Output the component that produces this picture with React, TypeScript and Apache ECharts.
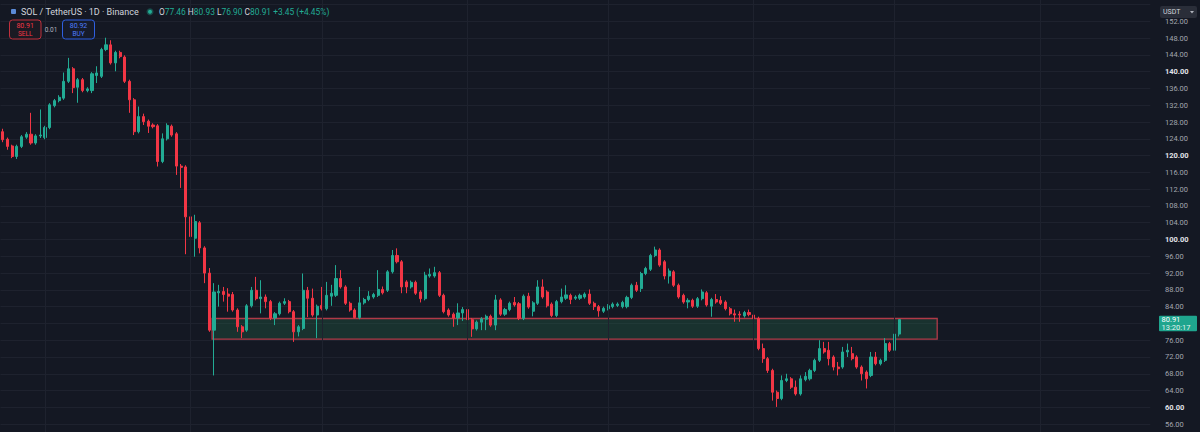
import React, { useEffect, useRef } from "react";
import * as echarts from "echarts";

// ---------- data ----------
const START = Date.UTC(2025, 11, 23);
const DAY_COUNT = 245;
const dates: string[] = Array.from({ length: DAY_COUNT }, (_, i) =>
  new Date(START + i * 86400000).toISOString().slice(0, 10)
);

const opens = [
  125.7, 123.9, 122.3, 119.8, 122.2, 124.4, 125.1, 123.0, 124.7, 124.3,
  126.7, 131.9, 133.1, 133.7, 137.7, 140.7, 136.3, 138.1, 135.5, 135.5,
  139.1, 138.9, 145.3, 146.4, 142.1, 144.6, 143.5, 137.7, 133.3, 125.7,
  129.3, 128.2, 127.3, 127.1, 118.6, 124.0, 127.0, 125.2, 117.5, 117.3,
  105.4, 100.3, 104.0, 98.0, 92.0, 78.4, 87.3, 87.6, 87.0, 86.9,
  83.2, 79.2, 78.4, 84.2, 87.9, 85.9, 86.3, 85.2, 81.3, 82.3,
  84.8, 85.2, 82.8, 78.0, 78.8, 87.9, 86.0, 82.0, 84.3, 83.5,
  86.5, 86.7, 90.7, 88.7, 84.8, 83.2, 81.4, 84.9, 85.7, 86.3,
  86.7, 88.1, 87.9, 92.3, 96.2, 94.7, 89.9, 88.7, 89.8, 87.5,
  85.9, 91.3, 91.3, 92.1, 86.7, 83.2, 82.2, 81.3, 82.5, 83.3,
  80.9, 78.7, 80.3, 81.0, 81.7, 79.6, 85.6, 82.2, 83.3, 85.0,
  84.7, 81.2, 86.5, 82.9, 84.8, 88.7, 87.5, 84.6, 81.9, 85.2,
  86.0, 86.7, 86.0, 86.0, 86.3, 87.0, 84.8, 84.0, 82.9, 83.5,
  84.0, 84.3, 84.0, 84.0, 86.2, 89.1, 88.3, 91.9, 92.9, 96.2,
  97.5, 94.7, 91.3, 92.3, 89.1, 86.7, 85.1, 85.5, 84.1, 85.9,
  87.3, 84.1, 85.7, 85.5, 85.1, 83.5, 82.3, 82.2, 81.8, 82.6,
  82.0, 81.2, 74.0, 71.6, 68.8, 63.6, 62.1, 66.4, 66.8, 64.8,
  63.2, 66.6, 66.8, 68.8, 71.2, 74.0, 73.6, 72.0, 69.6, 69.6,
  73.2, 72.8, 72.0, 69.6, 68.4, 67.6, 72.0, 70.4, 71.2, 75.2,
  73.6, 77.46,
];
const closes = [
  123.8, 122.2, 119.8, 122.2, 124.5, 125.1, 123.0, 124.7, 124.9, 126.7,
  132.1, 133.1, 133.9, 137.7, 140.7, 136.2, 138.1, 135.5, 135.9, 139.5,
  139.7, 145.3, 146.4, 142.1, 144.6, 143.6, 137.7, 133.3, 125.7, 129.3,
  128.1, 127.0, 126.9, 118.6, 124.0, 127.2, 124.9, 117.5, 117.2, 105.4,
  100.7, 104.3, 98.0, 92.0, 78.4, 87.5, 87.6, 86.9, 86.5, 83.2,
  79.2, 78.0, 84.2, 87.9, 85.9, 86.3, 85.2, 81.3, 82.3, 84.8,
  85.2, 82.8, 78.0, 79.2, 87.9, 86.0, 82.0, 84.1, 83.5, 86.7,
  87.2, 90.7, 88.7, 84.8, 83.2, 81.4, 84.9, 85.7, 86.5, 86.9,
  88.1, 87.3, 92.3, 96.2, 94.7, 88.7, 88.7, 89.8, 87.2, 85.9,
  91.5, 91.7, 92.1, 86.7, 82.8, 82.0, 81.3, 82.5, 83.3, 80.9,
  78.7, 80.3, 81.1, 81.7, 79.6, 85.6, 82.2, 83.3, 84.8, 84.4,
  81.2, 86.5, 83.9, 84.9, 88.7, 86.3, 84.2, 81.9, 85.2, 86.3,
  86.8, 85.7, 86.3, 86.7, 87.0, 84.8, 84.0, 83.0, 83.6, 84.2,
  84.6, 84.6, 85.0, 86.2, 89.1, 87.9, 91.9, 93.1, 96.2, 97.5,
  93.9, 91.3, 92.5, 89.1, 86.3, 85.1, 85.5, 84.1, 85.9, 87.5,
  84.4, 85.7, 85.1, 84.8, 83.5, 82.3, 82.0, 82.0, 82.6, 82.1,
  81.2, 74.0, 71.6, 68.8, 63.6, 62.1, 66.4, 66.8, 64.8, 63.2,
  66.8, 67.4, 68.8, 71.2, 74.0, 73.2, 71.6, 69.6, 69.2, 73.2,
  73.6, 71.6, 69.6, 68.0, 66.8, 72.0, 70.4, 71.2, 75.2, 73.6,
  77.46, 80.91,
];
const lows = [
  123.2, 121.4, 119.4, 119.2, 121.8, 124.0, 122.6, 122.6, 124.2, 123.9,
  126.3, 131.5, 132.7, 133.3, 137.3, 134.9, 132.6, 135.1, 135.1, 134.9,
  137.3, 138.5, 144.9, 141.7, 140.1, 143.2, 137.3, 130.2, 124.9, 125.3,
  127.3, 125.4, 126.5, 117.4, 118.2, 123.6, 124.5, 115.4, 112.3, 96.5,
  98.3, 95.9, 96.7, 89.6, 78.0, 67.6, 84.0, 85.2, 82.8, 82.8,
  78.0, 76.5, 78.0, 83.8, 85.5, 82.4, 83.6, 80.8, 79.6, 81.9,
  84.4, 82.4, 75.6, 76.9, 78.4, 81.5, 81.6, 76.5, 83.1, 83.1,
  84.2, 86.3, 88.3, 84.4, 82.8, 81.2, 81.0, 84.5, 85.3, 85.9,
  86.3, 86.9, 87.5, 91.9, 94.3, 87.2, 87.2, 88.3, 86.8, 85.0,
  85.5, 90.9, 90.9, 86.3, 82.4, 81.6, 79.2, 79.6, 80.6, 80.5,
  76.8, 78.3, 78.4, 78.4, 79.2, 78.4, 81.8, 81.8, 82.9, 84.0,
  80.8, 80.8, 83.5, 81.7, 84.4, 85.9, 83.8, 81.5, 81.5, 84.8,
  85.6, 84.6, 85.6, 85.6, 85.9, 84.4, 83.2, 81.6, 82.5, 83.1,
  83.6, 83.9, 83.6, 83.6, 85.8, 87.5, 87.5, 91.5, 92.5, 95.8,
  93.5, 90.5, 89.5, 88.7, 85.9, 84.7, 83.6, 83.7, 83.7, 85.5,
  84.0, 81.6, 84.7, 84.4, 83.1, 81.9, 80.4, 80.4, 81.4, 81.7,
  79.2, 73.6, 70.6, 68.2, 61.6, 60.1, 61.7, 66.0, 64.4, 62.8,
  62.8, 66.2, 66.4, 68.4, 70.8, 72.8, 70.0, 68.8, 67.6, 69.2,
  72.0, 71.2, 69.2, 66.4, 64.5, 67.2, 70.0, 70.0, 70.8, 73.2,
  73.2, 76.9,
];
const highs = [
  126.4, 124.3, 122.6, 122.6, 124.9, 125.6, 130.2, 125.1, 131.0, 127.1,
  132.5, 133.5, 134.4, 139.8, 143.3, 141.1, 138.5, 138.5, 136.3, 139.9,
  141.3, 145.7, 148.1, 147.5, 145.0, 145.0, 143.9, 138.1, 133.7, 131.7,
  130.0, 128.6, 127.7, 127.5, 125.3, 127.7, 127.4, 125.6, 118.0, 117.7,
  107.6, 105.9, 104.4, 98.4, 93.2, 89.6, 89.2, 88.7, 88.4, 87.5,
  83.6, 79.6, 84.6, 88.7, 91.1, 90.3, 86.9, 85.6, 82.7, 85.2,
  86.0, 85.6, 83.2, 79.6, 91.9, 88.7, 88.3, 84.5, 88.7, 89.9,
  89.2, 93.9, 92.7, 89.1, 85.2, 83.6, 88.7, 86.1, 87.7, 87.3,
  92.7, 88.8, 92.7, 97.5, 97.9, 95.1, 90.3, 90.2, 90.2, 87.9,
  92.3, 93.1, 93.5, 92.5, 87.1, 83.6, 82.6, 84.8, 83.9, 86.3,
  81.3, 80.7, 81.5, 82.1, 82.1, 86.8, 86.0, 83.7, 85.2, 86.3,
  85.1, 86.9, 87.3, 85.3, 90.3, 90.5, 87.9, 85.0, 85.6, 88.3,
  89.1, 87.1, 86.7, 87.1, 87.4, 88.1, 85.2, 84.4, 84.0, 84.6,
  85.0, 85.0, 85.4, 86.6, 89.5, 89.9, 92.3, 93.5, 96.6, 98.3,
  97.9, 95.1, 93.1, 92.7, 89.5, 87.1, 86.0, 85.9, 86.3, 88.1,
  87.7, 86.1, 87.0, 86.5, 85.5, 83.9, 83.3, 82.9, 83.0, 83.3,
  82.4, 81.6, 75.2, 72.0, 69.2, 64.0, 67.6, 68.0, 67.2, 66.4,
  67.6, 68.4, 69.2, 71.6, 76.0, 75.6, 75.6, 72.4, 70.8, 74.4,
  75.2, 74.4, 72.4, 70.0, 68.8, 73.2, 73.2, 71.6, 76.5, 75.6,
  78.5, 80.93,
];

// support zone (index units on the category scale, price units)
const zoneStart = 44.6;
const zoneEnd = 199.1;
const zoneLow = 76.24;
const zoneHigh = 81.18;

const askPrice = 80.92;
const spread = "0.01";
const countdown = "13:20:17";
const symbolTitle = "SOL / TetherUS · 1D · Binance";
const currency = "USDT";

// ---------- styling ----------
const FONT = "Roboto, 'Liberation Sans', sans-serif";
const BG = "#141823";
const GRID = "#1e222e";
const UP = "#22ab94";
const DOWN = "#f23645";
const OY = 20;

const last = opens.length - 1;
const lastClose = closes[last];
const prevClose = closes[last - 1];
const change = lastClose - prevClose;
const changePct = (change / prevClose) * 100;

export default function App() {
  const ref = useRef<HTMLDivElement>(null);
  useEffect(() => {
    document.documentElement.style.overflow = "hidden";
    document.body.style.margin = "0";
    document.body.style.overflow = "hidden";
    const chart = echarts.init(ref.current!, null, { renderer: "svg" });

    const candles = opens.map((o, i) => [o, closes[i], lows[i], highs[i]]);
    const monthStarts = dates
      .map((d, i) => (d.endsWith("-01") ? i : -1))
      .filter((i) => i >= 0);

    const base: any[] = [
      {
        type: "rect",
        z: 100,
        shape: { x: 11, y: 9 + OY, width: 5, height: 5, r: 1 },
        style: { fill: "#5b8bd8" },
      },
      {
        type: "text",
        z: 100,
        x: 21,
        y: 11.7 + OY,
        style: {
          text: symbolTitle,
          fill: "#d1d4dc",
          fontSize: 9,
          fontFamily: FONT,
          verticalAlign: "middle",
        },
      },
      {
        type: "circle",
        z: 100,
        shape: { cx: 150, cy: 11.7 + OY, r: 3.5 },
        style: { fill: "rgba(34,171,148,0.35)" },
      },
      {
        type: "circle",
        z: 100,
        shape: { cx: 150, cy: 11.7 + OY, r: 2 },
        style: { fill: UP },
      },
      {
        type: "text",
        z: 100,
        x: 159,
        y: 11.7 + OY,
        style: {
          text:
            `{l|O}{v|${opens[last].toFixed(2)}} {l|H}{v|${highs[last].toFixed(2)}} ` +
            `{l|L}{v|${lows[last].toFixed(2)}} {l|C}{v|${lastClose.toFixed(2)}} ` +
            `{v|+${change.toFixed(2)} (+${changePct.toFixed(2)}%)}`,
          verticalAlign: "middle",
          fontSize: 8.4,
          fontFamily: FONT,
          rich: {
            l: { fill: "#d1d4dc", fontSize: 8.4, fontFamily: FONT },
            v: { fill: UP, fontSize: 8.4, fontFamily: FONT },
          },
        },
      },
      // SELL box
      {
        type: "rect",
        z: 100,
        shape: { x: 9.5, y: 20 + OY, width: 31.5, height: 19, r: 3 },
        style: { fill: "#1b1a23", stroke: "#c0303d", lineWidth: 1 },
      },
      {
        type: "text",
        z: 101,
        x: 25.2,
        y: 25.5 + OY,
        style: {
          text: lastClose.toFixed(2),
          fill: DOWN,
          fontSize: 7,
          fontFamily: FONT,
          align: "center",
          verticalAlign: "middle",
        },
      },
      {
        type: "text",
        z: 101,
        x: 25.2,
        y: 33.5 + OY,
        style: {
          text: "SELL",
          fill: DOWN,
          fontSize: 6.5,
          fontFamily: FONT,
          align: "center",
          verticalAlign: "middle",
        },
      },
      {
        type: "text",
        z: 100,
        x: 51,
        y: 29.5 + OY,
        style: {
          text: spread,
          fill: "#b2b5be",
          fontSize: 6.5,
          fontFamily: FONT,
          align: "center",
          verticalAlign: "middle",
        },
      },
      // BUY box
      {
        type: "rect",
        z: 100,
        shape: { x: 62.5, y: 20 + OY, width: 32, height: 19, r: 3 },
        style: { fill: "#161b2a", stroke: "#2f5fe0", lineWidth: 1 },
      },
      {
        type: "text",
        z: 101,
        x: 78.5,
        y: 25.5 + OY,
        style: {
          text: askPrice.toFixed(2),
          fill: "#4d7dff",
          fontSize: 7,
          fontFamily: FONT,
          align: "center",
          verticalAlign: "middle",
        },
      },
      {
        type: "text",
        z: 101,
        x: 78.5,
        y: 33.5 + OY,
        style: {
          text: "BUY",
          fill: "#4d7dff",
          fontSize: 6.5,
          fontFamily: FONT,
          align: "center",
          verticalAlign: "middle",
        },
      },
      // currency box
      {
        type: "rect",
        z: 100,
        shape: { x: 1160, y: 6 + OY, width: 37, height: 12, r: 2 },
        style: { fill: "#2a2e39" },
      },
      {
        type: "text",
        z: 101,
        x: 1163,
        y: 12 + OY,
        style: {
          text: currency,
          fill: "#d1d4dc",
          fontSize: 7,
          fontFamily: FONT,
          verticalAlign: "middle",
        },
      },
      {
        type: "polygon",
        z: 101,
        shape: { points: [[1190, 11 + OY], [1194, 11 + OY], [1192, 13.5 + OY]] },
        style: { fill: "#b2b5be" },
      },
    ];

    const option: any = {
      animation: false,
      backgroundColor: BG,
      grid: { left: 0.45, right: 49.75, top: 7.8, bottom: 19.1 },
      xAxis: [
        {
          type: "category",
          data: dates,
          boundaryGap: true,
          show: false,
        },
        {
          type: "value",
          min: -0.5,
          max: DAY_COUNT - 0.5,
          show: false,
          splitLine: { show: false },
        },
      ],
      yAxis: {
        type: "value",
        position: "right",
        min: 52,
        max: 160,
        interval: 4,
        axisLine: { show: false },
        axisTick: { show: false },
        splitLine: { lineStyle: { color: GRID, width: 1 } },
        axisLabel: {
          margin: 14.7,
          fontSize: 7.5,
          fontFamily: FONT,
          color: "#a3a6af",
          formatter: (v: number) => {
            // hidden: beyond the visible area, under the currency box, or under the price tag
            if (v > 153 || v < 54 || Math.abs(v - lastClose) < 2.5) return "";
            const s = v.toFixed(2);
            return v % 20 === 0 ? `{b|${s}}` : `{n|${s}}`;
          },
          rich: {
            b: { color: "#e1e3e8", fontWeight: "bold", fontSize: 7.5, fontFamily: FONT },
            n: { color: "#a3a6af", fontSize: 7.5, fontFamily: FONT },
          },
        },
      },
      series: [
        {
          type: "line",
          xAxisIndex: 1,
          z: 1,
          data: [[zoneStart, zoneLow]],
          showSymbol: false,
          symbol: "none",
          lineStyle: { opacity: 0 },
          silent: true,
          markLine: {
            silent: true,
            symbol: ["none", "none"],
            label: { show: false },
            lineStyle: { color: GRID, type: "solid", width: 1 },
            data: monthStarts.map((i) => ({ xAxis: i })),
          },
          markArea: {
            silent: true,
            itemStyle: {
              color: "rgba(40,120,80,0.28)",
              borderColor: "#b03a48",
              borderWidth: 1.3,
            },
            data: [
              [
                { xAxis: zoneStart, yAxis: zoneHigh },
                { xAxis: zoneEnd, yAxis: zoneLow },
              ],
            ],
          },
        },
        {
          type: "candlestick",
          z: 2,
          data: candles,
          barWidth: 2.6,
          itemStyle: {
            color: UP,
            color0: DOWN,
            borderColor: UP,
            borderColor0: DOWN,
            borderWidth: 1,
          },
        },
      ],
      graphic: base,
    };

    chart.setOption(option);
    const py = chart.convertToPixel({ yAxisIndex: 0 }, lastClose) as number;
    chart.setOption({
      graphic: [
        ...base,
        {
          type: "rect",
          z: 110,
          shape: { x: 1159, y: py - 3.8, width: 38, height: 15.5, r: 1 },
          style: { fill: "#1fa58e" },
        },
        {
          type: "text",
          z: 111,
          x: 1161.5,
          y: py + 0.2,
          style: {
            text: lastClose.toFixed(2),
            fill: "#ffffff",
            fontSize: 7.5,
            fontFamily: FONT,
            verticalAlign: "middle",
          },
        },
        {
          type: "text",
          z: 111,
          x: 1161.5,
          y: py + 7.6,
          style: {
            text: countdown,
            fill: "#e3f3ef",
            fontSize: 7.5,
            fontFamily: FONT,
            verticalAlign: "middle",
          },
        },
      ],
    });

    return () => chart.dispose();
  }, []);

  return (
    <div
      ref={ref}
      style={{ position: "fixed", left: 0, top: -OY, width: 1200, height: 480 }}
    />
  );
}
